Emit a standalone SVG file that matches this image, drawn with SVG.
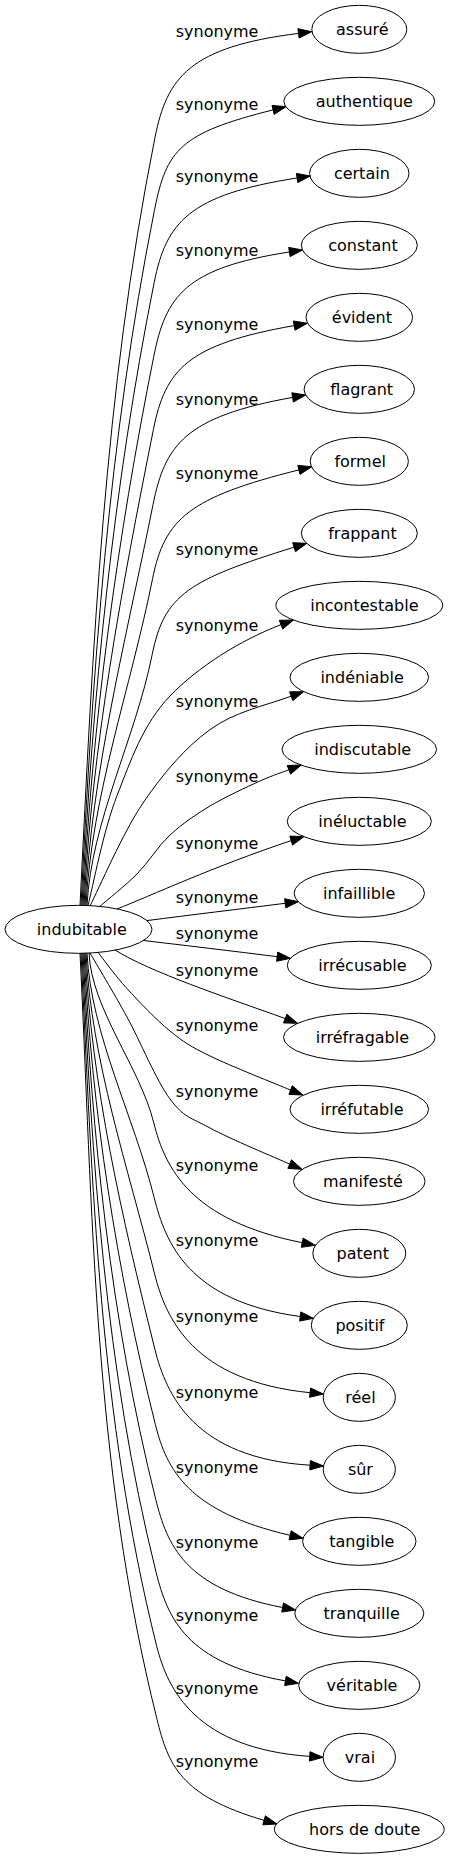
<svg xmlns="http://www.w3.org/2000/svg" width="449" height="1859" viewBox="0 0 449 1859">
<style>
.n ellipse{fill:none;stroke:#000;stroke-width:1}
text{font-family:"DejaVu Sans",sans-serif;font-size:16px;fill:#000}
.e path{fill:none;stroke:#000;stroke-width:1}
.e polygon{fill:#000;stroke:#000;stroke-width:1}
</style>
<rect width="449" height="1859" fill="#fff"/>
<g id="edges" class="e">
<path d="M80,905.5 C92.8,649.5 103.8,393.4 155,137.4 C167,77.4 189.5,47 298.5,33.4"/><polygon points="311.7,31.7 299.1,38 297.9,28.7"/>
<path d="M81,905.5 C92.6,673.5 108.2,441.5 154.6,209.5 C166.6,149.5 180,133.2 273.1,109.9"/><polygon points="286,106.7 274.2,114.4 272,105.4"/>
<path d="M82,905.5 C92.4,697.8 112.7,490.1 154.2,282.4 C166.2,222.4 188.7,194.8 297.1,178"/><polygon points="310.3,176 297.8,182.6 296.4,173.4"/>
<path d="M83,905.5 C92.2,722.4 117.2,539.4 153.8,356.3 C165.8,296.3 184.7,268.1 289.4,252"/><polygon points="302.6,250 290.1,256.6 288.7,247.4"/>
<path d="M84,905.5 C91.9,746.8 121.7,588.2 153.4,429.5 C165.4,369.5 187.3,344.3 294.2,325.6"/><polygon points="307.3,323.3 295,330.2 293.4,321"/>
<path d="M85,905.5 C91.7,771.9 126.3,638.3 153,504.7 C165,444.7 185.1,416.7 292.6,397.4"/><polygon points="305.7,395 293.4,402 291.8,392.8"/>
<path d="M86,905.5 C91.4,796.5 130.8,687.6 152.6,578.6 C164.6,518.6 189.3,497.3 298.9,469.9"/><polygon points="311.8,466.7 300,474.4 297.8,465.4"/>
<path d="M87,905.5 C91.2,821.8 135.5,738.2 152.2,654.5 C164.2,594.5 188.8,579.8 294.1,547.2"/><polygon points="306.8,543.3 295.5,551.7 292.7,542.7"/>
<path d="M88,905.5 C92.8,887.2 103.3,830.6 117,795.7 C130.7,760.8 142.7,724.5 170,696 C197.3,667.5 239.9,640.3 281,624.7"/><polygon points="293.5,620 282.7,629.1 279.3,620.3"/>
<path d="M90,906 C98.8,888.8 123,832.4 143,803 C163,773.6 185.3,747.4 210,729.6 C234.7,711.8 263.6,706.1 291.2,696.2"/><polygon points="303.7,691.7 292.8,700.6 289.6,691.8"/>
<path d="M100,906.3 C106.2,900.7 125.3,885.8 137,874 C148.7,862.2 157.8,846.3 170,835 C182.2,823.7 195,815 210,806 C225,797 246.9,787 260,781 C273.2,775 284.1,771.7 288.9,769.8"/><polygon points="301.3,765 290.6,774.2 287.2,765.5"/>
<path d="M117,909 C150,896 215,866 291.2,840.6"/><polygon points="303.9,836.7 292.6,845.1 289.8,836.1"/>
<path d="M147,920.6 C190,915 240,909 285.2,903.3"/><polygon points="298.4,901.7 285.8,907.9 284.6,898.7"/>
<path d="M143.3,940.5 C186,945.5 232,951 277.2,956.7"/><polygon points="290.4,958.3 276.6,961.3 277.8,952.1"/>
<path d="M115,950 C150,972 225,997 285.2,1018.5"/><polygon points="297.6,1023.3 283.5,1022.9 286.9,1014.2"/>
<path d="M98,952.3 C102.8,958.4 115,975.5 127,988.6 C139,1001.7 156.2,1019.8 170,1031 C183.8,1042.2 189.9,1046.2 210,1056 C230.1,1065.8 277.2,1084.4 290.6,1090.1"/><polygon points="303,1095 288.9,1094.4 292.3,1085.7"/>
<path d="M90,953 C96.2,963.7 113.7,992.7 127,1017 C140.3,1041.3 156.2,1080.5 170,1099 C183.8,1117.5 190.1,1117.2 210,1128 C230,1138.9 276.4,1158.1 289.7,1164.1"/><polygon points="302,1169.3 287.9,1168.45 291.5,1159.8"/>
<path d="M89,953.1 C91.8,1009.7 139.6,1066.3 153.8,1122.9 C165.1,1167.9 190,1220.3 302.2,1242.7"/><polygon points="315.3,1245.3 301.3,1247.3 303.1,1238.1"/>
<path d="M87,953.1 C91.1,1034.6 133.8,1116.2 154.2,1197.7 C165.5,1242.7 188.3,1301.4 300.2,1316.5"/><polygon points="313.4,1318.3 299.6,1321.1 300.8,1311.9"/>
<path d="M86,953.1 C91.3,1060 127.9,1167 154.6,1273.9 C165.9,1318.9 193.3,1381 310.1,1392.7"/><polygon points="323.4,1394 309.6,1397.35 310.6,1388.05"/>
<path d="M85,953.1 C91.6,1085.3 122,1217.5 155,1349.7 C166.3,1394.7 194.3,1458.3 310.1,1465.2"/><polygon points="323.4,1466 309.8,1469.9 310.4,1460.5"/>
<path d="M84,953.1 C91.9,1110.3 116.1,1267.5 155.4,1424.7 C166.7,1469.7 188.2,1511.9 290.1,1535.3"/><polygon points="303.1,1538.3 289.05,1539.9 291.15,1530.8"/>
<path d="M83,953.1 C92.1,1135.3 110.3,1317.4 155.8,1499.6 C167.1,1544.6 184.5,1588.8 282.6,1607.5"/><polygon points="295.7,1610 281.7,1612.1 283.5,1602.9"/>
<path d="M82,953.1 C92.3,1159.6 104.6,1366.2 156.2,1572.7 C167.5,1617.7 185.9,1663 285.4,1680.9"/><polygon points="298.5,1683.3 284.6,1685.5 286.2,1676.3"/>
<path d="M81,953.1 C92.5,1184 98.9,1414.9 156.6,1645.8 C167.9,1690.8 196.7,1748.5 309.7,1756.4"/><polygon points="323,1757.3 309.4,1761.1 310,1751.7"/>
<path d="M80,953.1 C92.8,1208.5 93.1,1463.9 157,1719.3 C168.3,1764.3 179.3,1795.7 264.1,1820.3"/><polygon points="276.9,1824 262.8,1824.8 265.4,1815.8"/>
<g id="edge-labels">
<text x="175.7" y="37.4">synonyme</text>
<text x="175.7" y="109.5">synonyme</text>
<text x="175.7" y="182.4">synonyme</text>
<text x="175.7" y="256.3">synonyme</text>
<text x="175.7" y="329.5">synonyme</text>
<text x="175.7" y="404.7">synonyme</text>
<text x="175.7" y="478.6">synonyme</text>
<text x="175.7" y="554.5">synonyme</text>
<text x="175.7" y="631.3">synonyme</text>
<text x="175.7" y="707">synonyme</text>
<text x="175.7" y="782">synonyme</text>
<text x="175.7" y="848.5">synonyme</text>
<text x="175.7" y="902.8">synonyme</text>
<text x="175.7" y="938.6">synonyme</text>
<text x="175.7" y="975.8">synonyme</text>
<text x="175.7" y="1030.8">synonyme</text>
<text x="175.7" y="1097.2">synonyme</text>
<text x="175.7" y="1170.8">synonyme</text>
<text x="175.7" y="1245.7">synonyme</text>
<text x="175.7" y="1321.9">synonyme</text>
<text x="175.7" y="1397.7">synonyme</text>
<text x="175.7" y="1472.7">synonyme</text>
<text x="175.7" y="1547.6">synonyme</text>
<text x="175.7" y="1620.7">synonyme</text>
<text x="175.7" y="1693.8">synonyme</text>
<text x="175.7" y="1767.1">synonyme</text>
</g>
</g>
<g id="node-indubitable" class="n"><ellipse cx="78.5" cy="929.33" rx="73.5" ry="24"/><text x="36.8" y="934.9">indubitable</text></g>
<g id="node-assure" class="n"><ellipse cx="359.3" cy="29.33" rx="47.5" ry="24"/><text x="336" y="34.9">assuré</text></g>
<g id="node-authentique" class="n"><ellipse cx="359.3" cy="101.33" rx="75.5" ry="24"/><text x="315.7" y="106.9">authentique</text></g>
<g id="node-certain" class="n"><ellipse cx="359.3" cy="173.33" rx="49.7" ry="24"/><text x="333.9" y="178.9">certain</text></g>
<g id="node-constant" class="n"><ellipse cx="359.3" cy="245.33" rx="58" ry="24"/><text x="328.2" y="250.9">constant</text></g>
<g id="node-evident" class="n"><ellipse cx="359.3" cy="317.33" rx="53.3" ry="24"/><text x="331.8" y="322.9">évident</text></g>
<g id="node-flagrant" class="n"><ellipse cx="359.3" cy="389.33" rx="55.2" ry="24"/><text x="330.3" y="394.9">flagrant</text></g>
<g id="node-formel" class="n"><ellipse cx="359.3" cy="461.33" rx="49.1" ry="24"/><text x="334.4" y="466.9">formel</text></g>
<g id="node-frappant" class="n"><ellipse cx="359.3" cy="533.33" rx="58" ry="24"/><text x="328.2" y="538.9">frappant</text></g>
<g id="node-incontestable" class="n"><ellipse cx="359.3" cy="605.33" rx="83.4" ry="24"/><text x="310.2" y="610.9">incontestable</text></g>
<g id="node-indeniable" class="n"><ellipse cx="359.3" cy="677.33" rx="69.3" ry="24"/><text x="320.4" y="682.9">indéniable</text></g>
<g id="node-indiscutable" class="n"><ellipse cx="359.3" cy="749.33" rx="77.3" ry="24"/><text x="314.2" y="754.9">indiscutable</text></g>
<g id="node-ineluctable" class="n"><ellipse cx="359.3" cy="821.33" rx="72.1" ry="24"/><text x="318.3" y="826.9">inéluctable</text></g>
<g id="node-infaillible" class="n"><ellipse cx="359.3" cy="893.33" rx="65.2" ry="24"/><text x="323" y="898.9">infaillible</text></g>
<g id="node-irrecusable" class="n"><ellipse cx="359.3" cy="965.33" rx="72.1" ry="24"/><text x="318.3" y="970.9">irrécusable</text></g>
<g id="node-irrefragable" class="n"><ellipse cx="359.3" cy="1037.33" rx="75.8" ry="24"/><text x="315.8" y="1042.9">irréfragable</text></g>
<g id="node-irrefutable" class="n"><ellipse cx="359.3" cy="1109.33" rx="69.3" ry="24"/><text x="320.4" y="1114.9">irréfutable</text></g>
<g id="node-manifeste" class="n"><ellipse cx="359.3" cy="1181.33" rx="65.8" ry="24"/><text x="323" y="1186.9">manifesté</text></g>
<g id="node-patent" class="n"><ellipse cx="359.3" cy="1253.33" rx="46.5" ry="24"/><text x="336.5" y="1258.9">patent</text></g>
<g id="node-positif" class="n"><ellipse cx="359.3" cy="1325.33" rx="48" ry="24"/><text x="335.4" y="1330.9">positif</text></g>
<g id="node-reel" class="n"><ellipse cx="359.3" cy="1397.33" rx="36.1" ry="24"/><text x="345.3" y="1402.9">réel</text></g>
<g id="node-sur" class="n"><ellipse cx="359.3" cy="1469.33" rx="36.1" ry="24"/><text x="347.9" y="1474.9">sûr</text></g>
<g id="node-tangible" class="n"><ellipse cx="359.3" cy="1541.33" rx="56.7" ry="24"/><text x="329.2" y="1546.9">tangible</text></g>
<g id="node-tranquille" class="n"><ellipse cx="359.3" cy="1613.33" rx="64.5" ry="24"/><text x="323.5" y="1618.9">tranquille</text></g>
<g id="node-veritable" class="n"><ellipse cx="359.3" cy="1685.33" rx="60.6" ry="24"/><text x="326.6" y="1690.9">véritable</text></g>
<g id="node-vrai" class="n"><ellipse cx="359.3" cy="1757.33" rx="36.2" ry="24"/><text x="344.8" y="1762.9">vrai</text></g>
<g id="node-hors-de-doute" class="n"><ellipse cx="359.3" cy="1829.33" rx="84.9" ry="24"/><text x="309" y="1834.9">hors de doute</text></g>
</svg>
